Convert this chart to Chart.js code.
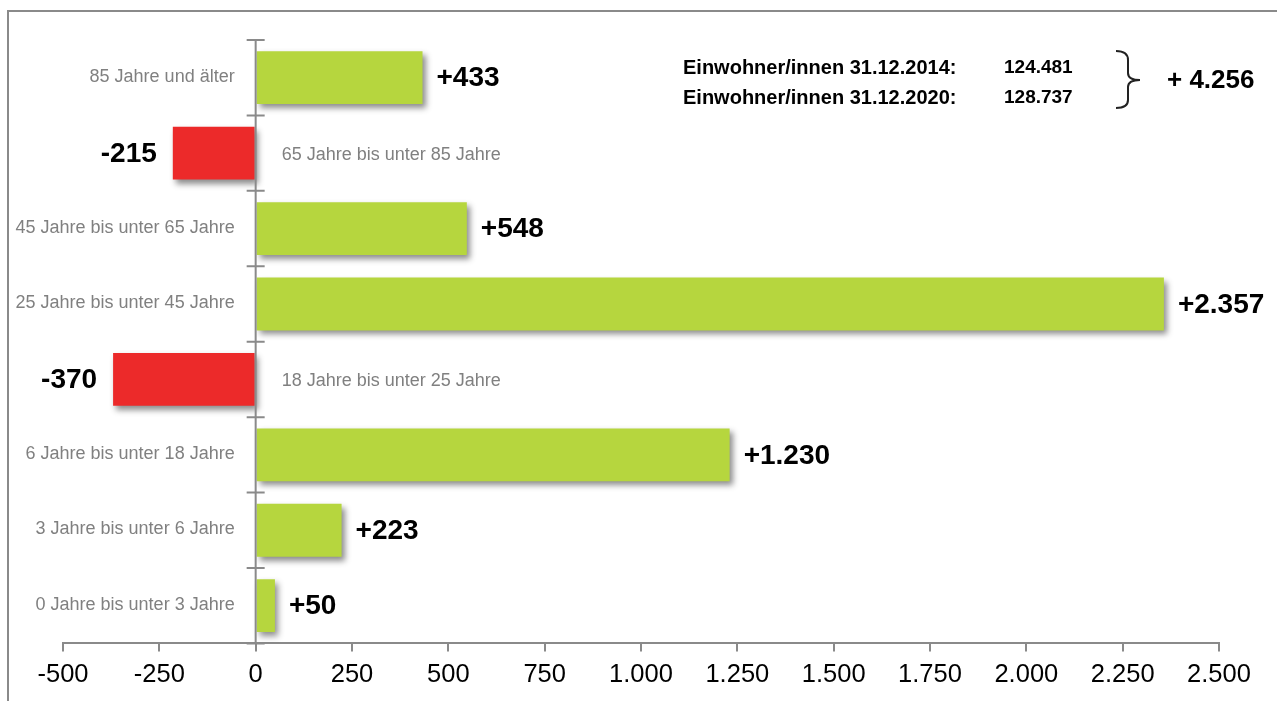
<!DOCTYPE html>
<html lang="de">
<head>
<meta charset="utf-8">
<title>Bevölkerungsentwicklung nach Altersgruppen</title>
<script src="https://cdn.jsdelivr.net/npm/chart.js@4"></script>
<style>
  html, body { margin: 0; padding: 0; background: #fff; }
  #wrap { width: 1277px; height: 701px; }
</style>
</head>
<body>
<div id="wrap"><canvas id="ageChart" width="1277" height="701"></canvas></div>
<script>
'use strict'

// age groups from oldest to youngest, change 2014 -> 2020
const ageGroups = [
    '85 Jahre und älter',
    '65 Jahre bis unter 85 Jahre',
    '45 Jahre bis unter 65 Jahre',
    '25 Jahre bis unter 45 Jahre',
    '18 Jahre bis unter 25 Jahre',
    '6 Jahre bis unter 18 Jahre',
    '3 Jahre bis unter 6 Jahre',
    '0 Jahre bis unter 3 Jahre'
];
const changes = [433, -215, 548, 2357, -370, 1230, 223, 50];

// x axis range
const axisMin = -500;
const axisMax = 2500;
const axisStep = 250;

// population totals shown at the top right
const popLabels = ['Einwohner/innen 31.12.2014:', 'Einwohner/innen 31.12.2020:'];
const popValues = [124481, 128737];

const GREEN = '#b6d63e';
const RED = '#ec2a2a';
const GREY = '#8a8a8a';
const FONT = '"Liberation Sans", Arial, sans-serif';

// 1234 -> "1.234"
function fmt(n) {
    const s = Math.abs(n).toString().replace(/\B(?=(\d{3})+(?!\d))/g, '.');
    return (n < 0 ? '-' : '') + s;
}

// outer frame (top and left edge only)
const framePlugin = {
    id: 'frame',
    beforeDraw(chart) {
        const ctx = chart.ctx;
        ctx.save();
        ctx.strokeStyle = GREY;
        ctx.lineWidth = 2;
        ctx.beginPath();
        ctx.moveTo(1277, 11);
        ctx.lineTo(8, 11);
        ctx.lineTo(8, 701);
        ctx.stroke();
        ctx.restore();
    }
};

// soft drop shadow under the bars
const shadowPlugin = {
    id: 'barShadow',
    beforeDatasetsDraw(chart) {
        const ctx = chart.ctx;
        ctx.save();
        ctx.shadowColor = 'rgba(0,0,0,0.45)';
        ctx.shadowBlur = 6;
        ctx.shadowOffsetX = 3;
        ctx.shadowOffsetY = 4;
    },
    afterDatasetsDraw(chart) {
        chart.ctx.restore();
    }
};

// zero line with category ticks, category names, value labels, totals
const labelPlugin = {
    id: 'labels',
    afterDatasetsDraw(chart) {
        const ctx = chart.ctx;
        const area = chart.chartArea;
        const x = chart.scales.x;
        const x0 = x.getPixelForValue(0);
        const bars = chart.getDatasetMeta(0).data;

        ctx.save();
        ctx.strokeStyle = GREY;
        ctx.lineWidth = 2;
        ctx.beginPath();
        ctx.moveTo(x0, area.top);
        ctx.lineTo(x0, area.bottom);
        const n = ageGroups.length;
        for (let i = 0; i <= n; i++) {
            const y = area.top + i * (area.bottom - area.top) / n;
            ctx.moveTo(x0 - 9, y);
            ctx.lineTo(x0 + 9, y);
        }
        ctx.stroke();

        ctx.textBaseline = 'middle';
        bars.forEach((bar, i) => {
            const v = changes[i];
            // category name on the opposite side of the bar
            ctx.font = '18px ' + FONT;
            ctx.fillStyle = '#808080';
            if (v >= 0) {
                ctx.textAlign = 'right';
                ctx.fillText(ageGroups[i], x0 - 21, bar.y - 1);
            } else {
                ctx.textAlign = 'left';
                ctx.fillText(ageGroups[i], x0 + 26, bar.y + 2);
            }
            // value next to the bar end
            ctx.font = 'bold 28px ' + FONT;
            ctx.fillStyle = '#000';
            const end = x.getPixelForValue(v);
            if (v >= 0) {
                ctx.textAlign = 'left';
                ctx.fillText('+' + fmt(v), end + 14, bar.y + 1);
            } else {
                ctx.textAlign = 'right';
                ctx.fillText(fmt(v), end - 16, bar.y + 1);
            }
        });

        // population totals
        ctx.textAlign = 'left';
        ctx.fillStyle = '#000';
        popLabels.forEach((lbl, i) => {
            const y = 68 + i * 30;
            ctx.font = 'bold 20px ' + FONT;
            ctx.fillText(lbl, 683, y);
            ctx.font = 'bold 19px ' + FONT;
            ctx.fillText(fmt(popValues[i]), 1004, y);
        });

        // curly brace
        ctx.strokeStyle = '#222';
        ctx.lineWidth = 2;
        ctx.beginPath();
        ctx.moveTo(1116, 51);
        ctx.quadraticCurveTo(1128, 51, 1128, 60);
        ctx.lineTo(1128, 73);
        ctx.quadraticCurveTo(1128, 80, 1140, 80);
        ctx.quadraticCurveTo(1128, 80, 1128, 87);
        ctx.lineTo(1128, 100);
        ctx.quadraticCurveTo(1128, 108, 1116, 108);
        ctx.stroke();

        ctx.font = 'bold 26px ' + FONT;
        ctx.fillText('+ ' + fmt(popValues[1] - popValues[0]), 1167, 81);
        ctx.restore();
    }
};

const ctx = document.getElementById('ageChart').getContext('2d');
new Chart(ctx, {
    type: 'bar',
    data: {
        labels: ageGroups,
        datasets: [{
            data: changes,
            backgroundColor: changes.map(v => v < 0 ? RED : GREEN),
            borderWidth: 0,
            categoryPercentage: 1,
            barPercentage: 0.7
        }]
    },
    options: {
        indexAxis: 'y',
        responsive: false,
        animation: false,
        layout: { padding: { top: 40, bottom: 3, left: 63, right: 58 } },
        plugins: {
            legend: { display: false },
            tooltip: { enabled: false }
        },
        scales: {
            y: { display: false },
            x: {
                min: axisMin,
                max: axisMax,
                border: { display: true, color: GREY, width: 2 },
                grid: { drawOnChartArea: false, drawTicks: true, tickLength: 8, color: GREY, lineWidth: 2 },
                ticks: {
                    stepSize: axisStep,
                    color: '#000',
                    padding: 8,
                    font: { family: FONT, size: 25.5 },
                    callback: v => fmt(v)
                }
            }
        }
    },
    plugins: [framePlugin, shadowPlugin, labelPlugin]
});
</script>
</body>
</html>
